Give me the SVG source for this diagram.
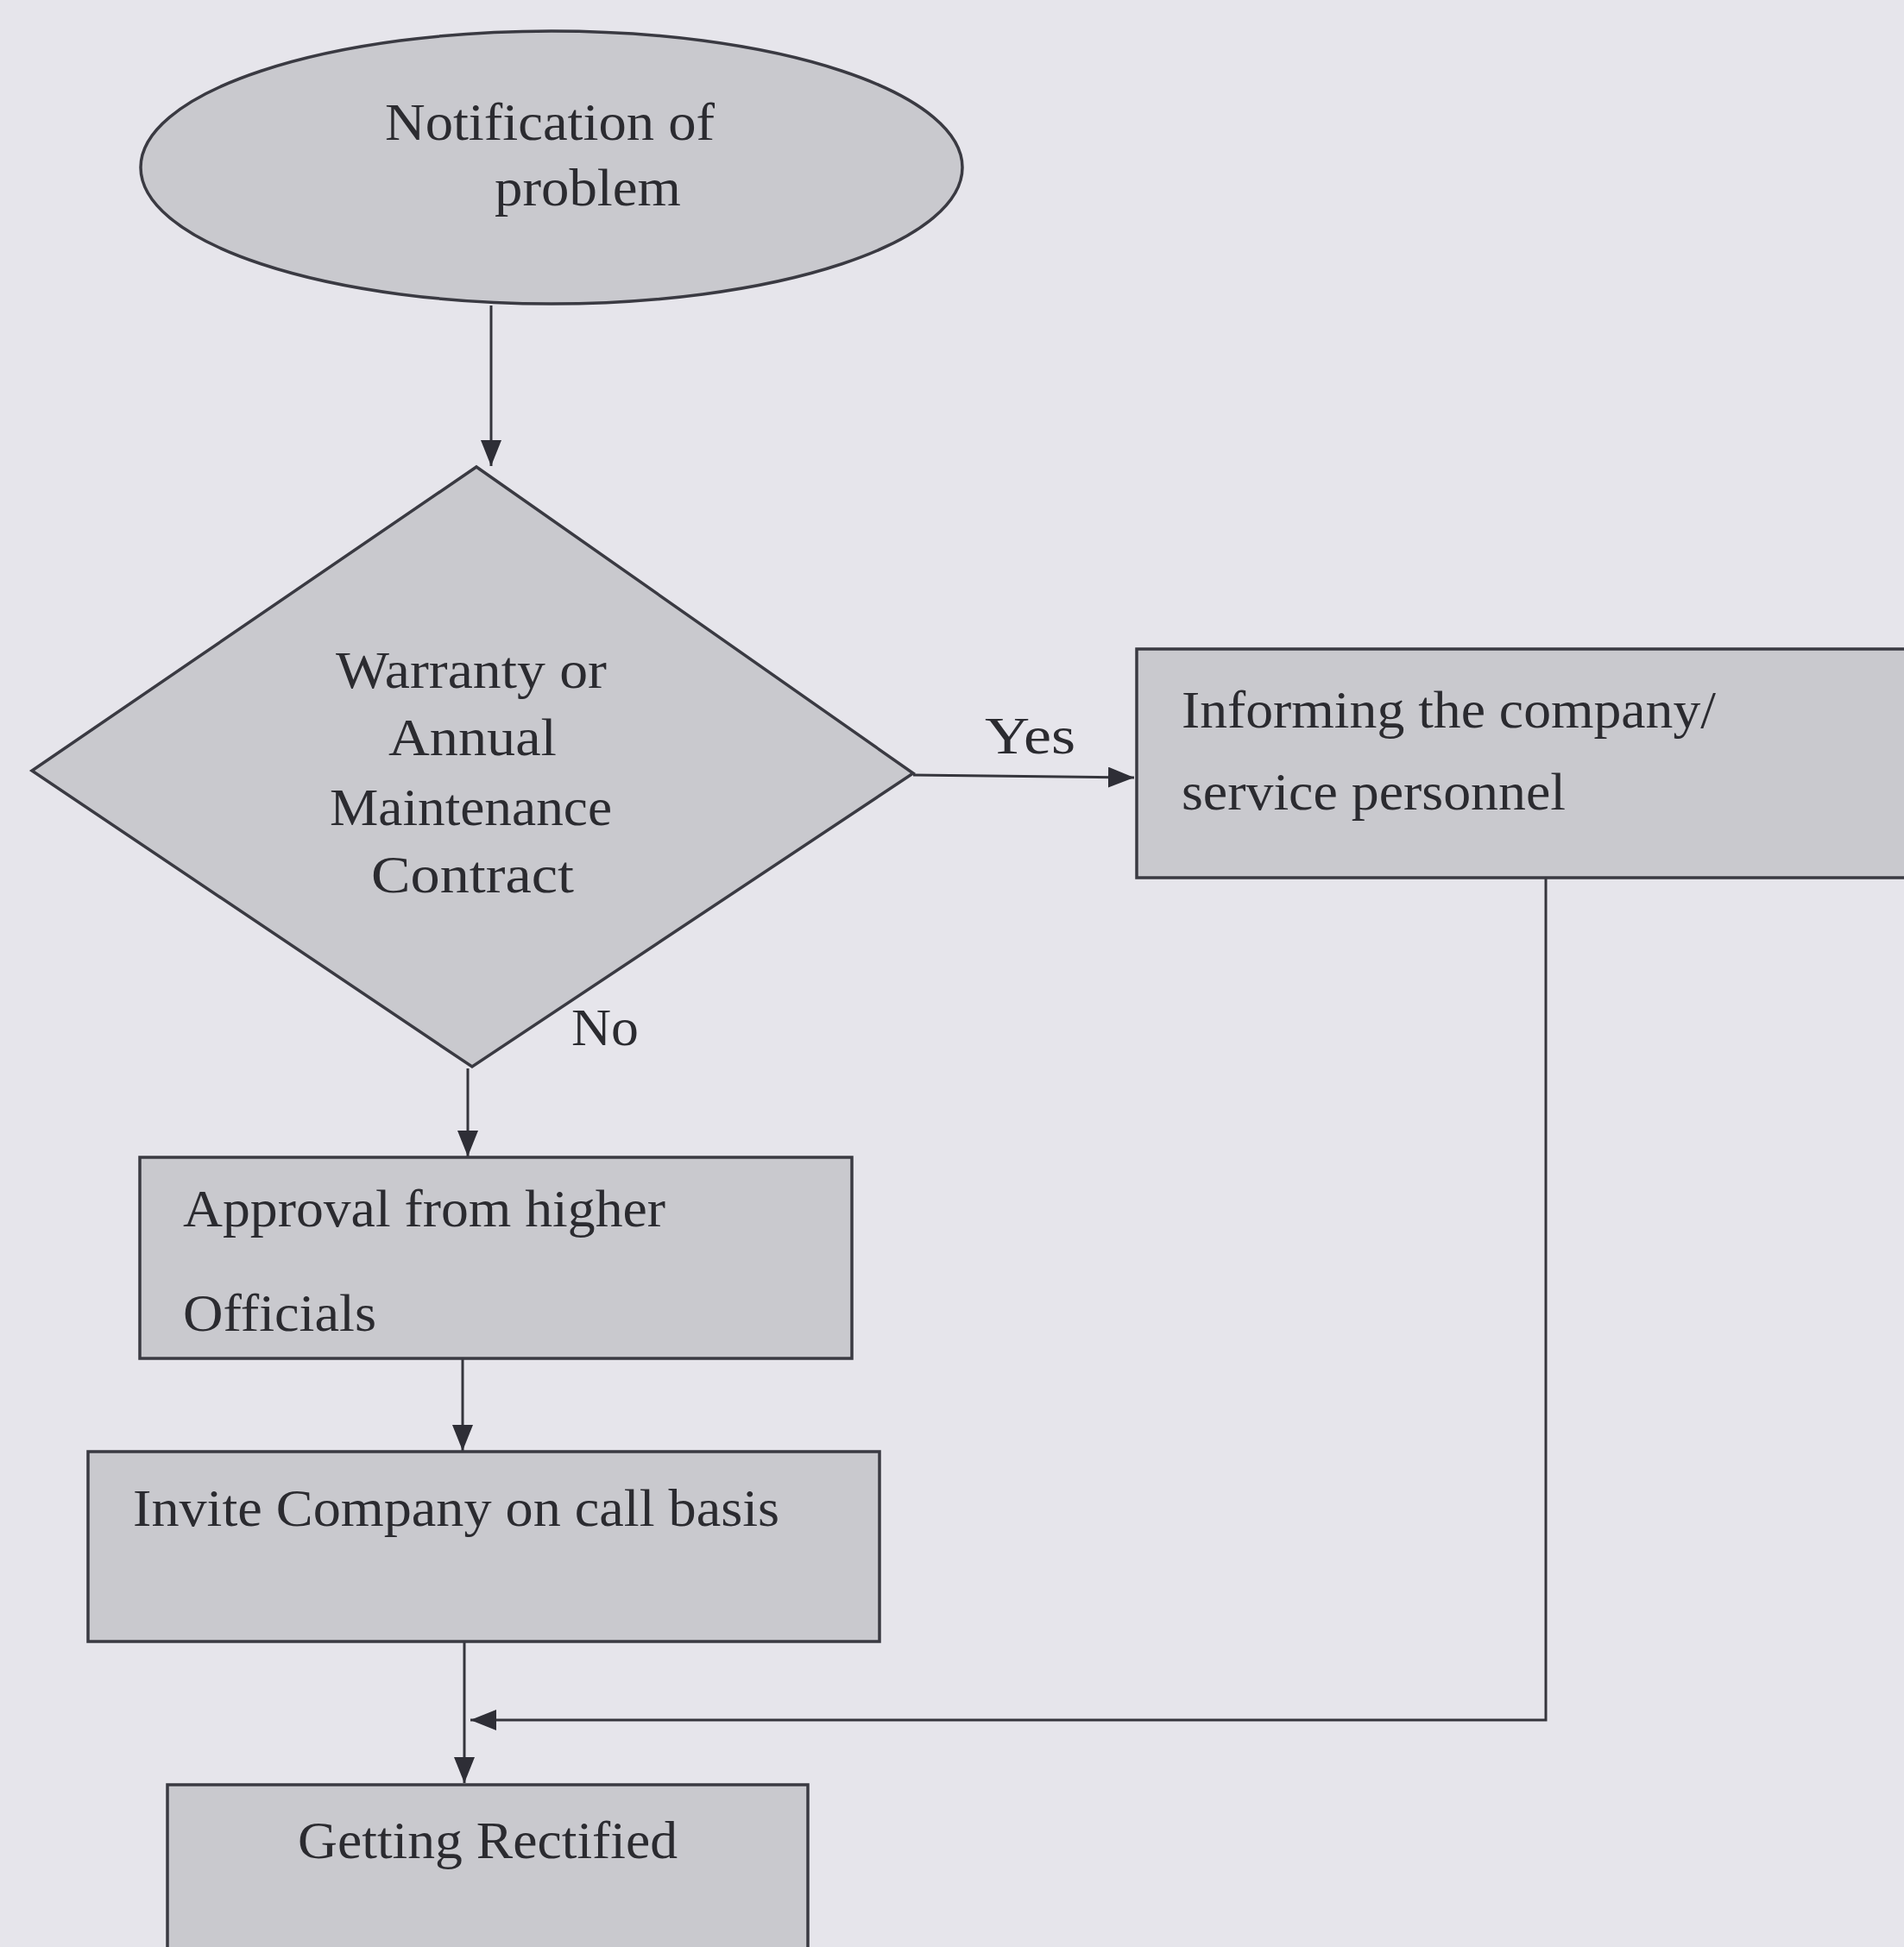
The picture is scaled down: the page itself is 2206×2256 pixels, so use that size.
<svg xmlns="http://www.w3.org/2000/svg" width="2206" height="2256" viewBox="0 0 2206 2256">
<defs>
<style>
.shape{fill:#c9c9ce;stroke:#3a3a42;stroke-width:3.5}
.t{font-family:"Liberation Serif","Times New Roman",serif;font-size:62px;fill:#2b2b30}
.edge{fill:none;stroke:#35353c;stroke-width:3}
</style>
<marker id="arr" viewBox="0 0 10 10" refX="10" refY="5" markerWidth="10" markerHeight="9" markerUnits="userSpaceOnUse" orient="auto">
<path d="M0,0 L10,5 L0,10 z" fill="#2e2e36"/>
</marker>
<marker id="ah" viewBox="0 0 30 24" refX="30" refY="12" markerWidth="30" markerHeight="24" markerUnits="userSpaceOnUse" orient="auto">
<path d="M0,0 L30,12 L0,24 z" fill="#2e2e36"/>
</marker>
</defs>
<rect width="2206" height="2256" fill="#e6e5eb"/>
<g id="connectors">
<line class="edge" x1="569" y1="354" x2="569" y2="540" marker-end="url(#ah)"/>
<line class="edge" x1="1058" y1="898" x2="1314" y2="901" marker-end="url(#ah)"/>
<line class="edge" x1="542" y1="1238" x2="542" y2="1340" marker-end="url(#ah)"/>
<line class="edge" x1="536" y1="1575" x2="536" y2="1681" marker-end="url(#ah)"/>
<line class="edge" x1="538" y1="1902" x2="538" y2="2066" marker-end="url(#ah)"/>
<polyline class="edge" points="1791,1018 1791,1993 545,1993" marker-end="url(#ah)"/>
</g>
<g id="n-notification">
<ellipse class="shape" cx="639" cy="194" rx="476" ry="158"/>
<text class="t" x="446" y="162" textLength="382" lengthAdjust="spacingAndGlyphs">Notification of</text>
<text class="t" x="573" y="238" textLength="216" lengthAdjust="spacingAndGlyphs">problem</text>
</g>
<g id="n-decision">
<polygon class="shape" points="552,541 1058,896 547,1236 37,893"/>
<text class="t" x="389" y="797" textLength="314" lengthAdjust="spacingAndGlyphs">Warranty or</text>
<text class="t" x="450" y="875" textLength="195" lengthAdjust="spacingAndGlyphs">Annual</text>
<text class="t" x="382" y="956" textLength="327" lengthAdjust="spacingAndGlyphs">Maintenance</text>
<text class="t" x="430" y="1034" textLength="235" lengthAdjust="spacingAndGlyphs">Contract</text>
</g>
<g id="labels">
<text class="t" x="1141" y="873" textLength="105" lengthAdjust="spacingAndGlyphs">Yes</text>
<text class="t" x="662" y="1211" textLength="78" lengthAdjust="spacingAndGlyphs">No</text>
</g>
<g id="n-informing">
<rect class="shape" x="1317" y="752" width="910" height="265"/>
<text class="t" x="1369" y="843" textLength="619" lengthAdjust="spacingAndGlyphs">Informing the company/</text>
<text class="t" x="1369" y="938" textLength="445" lengthAdjust="spacingAndGlyphs">service personnel</text>
</g>
<g id="n-approval">
<rect class="shape" x="162" y="1341" width="825" height="233"/>
<text class="t" x="212" y="1421" textLength="559" lengthAdjust="spacingAndGlyphs">Approval from higher</text>
<text class="t" x="212" y="1542" textLength="224" lengthAdjust="spacingAndGlyphs">Officials</text>
</g>
<g id="n-invite">
<rect class="shape" x="102" y="1682" width="917" height="220"/>
<text class="t" x="154" y="1768" textLength="749" lengthAdjust="spacingAndGlyphs">Invite Company on call basis</text>
</g>
<g id="n-rectified">
<rect class="shape" x="194" y="2068" width="742" height="220"/>
<text class="t" x="345" y="2153" textLength="440" lengthAdjust="spacingAndGlyphs">Getting Rectified</text>
</g>
</svg>
